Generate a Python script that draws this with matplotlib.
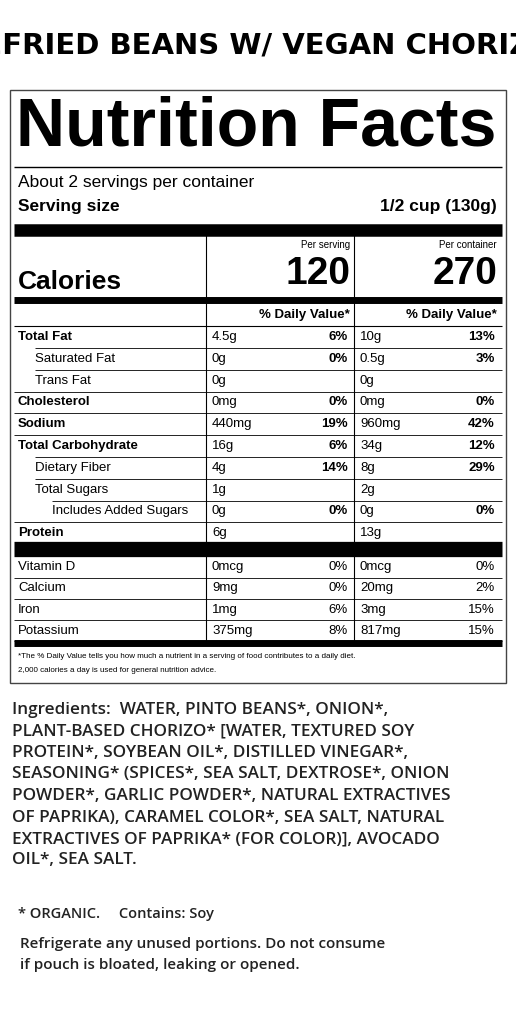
import matplotlib.pyplot as plt

title = "REFRIED BEANS W/ VEGAN CHORIZO"
servings = "About 2 servings per container"
serving_size = "1/2 cup (130g)"
cal_serving = "120"
cal_container = "270"

nutrients = ["Total Fat", "Saturated Fat", "Trans Fat", "Cholesterol", "Sodium",
             "Total Carbohydrate", "Dietary Fiber", "Total Sugars",
             "Includes Added Sugars", "Protein"]
indent = [0, 1, 1, 0, 0, 0, 1, 1, 2, 0]
bold = [True, False, False, True, True, True, False, False, False, True]
amt_serv = ["4.5g", "0g", "0g", "0mg", "440mg", "16g", "4g", "1g", "0g", "6g"]
dv_serv = ["6%", "0%", "", "0%", "19%", "6%", "14%", "", "0%", ""]
amt_cont = ["10g", "0.5g", "0g", "0mg", "960mg", "34g", "8g", "2g", "0g", "13g"]
dv_cont = ["13%", "3%", "", "0%", "42%", "12%", "29%", "", "0%", ""]

vitamins = ["Vitamin D", "Calcium", "Iron", "Potassium"]
vit_serv = ["0mcg", "9mg", "1mg", "375mg"]
vit_dv_serv = ["0%", "0%", "6%", "8%"]
vit_cont = ["0mcg", "20mg", "3mg", "817mg"]
vit_dv_cont = ["0%", "2%", "15%", "15%"]

footnote = ["*The % Daily Value tells you how much a nutrient in a serving of food contributes to a daily diet.",
            "2,000 calories a day is used for general nutrition advice."]
ingredients = ["Ingredients:  WATER, PINTO BEANS*, ONION*,",
               "PLANT-BASED CHORIZO* [WATER, TEXTURED SOY",
               "PROTEIN*, SOYBEAN OIL*, DISTILLED VINEGAR*,",
               "SEASONING* (SPICES*, SEA SALT, DEXTROSE*, ONION",
               "POWDER*, GARLIC POWDER*, NATURAL EXTRACTIVES",
               "OF PAPRIKA), CARAMEL COLOR*, SEA SALT, NATURAL",
               "EXTRACTIVES OF PAPRIKA* (FOR COLOR)], AVOCADO",
               "OIL*, SEA SALT."]
notes = ["Refrigerate any unused portions. Do not consume",
         "if pouch is bloated, leaking or opened."]

fig = plt.figure(figsize=(5.16, 10.24), dpi=100)
ax = fig.add_axes([0, 0, 1, 1])
ax.set_xlim(0, 516)
ax.set_ylim(1024, 0)
ax.axis("off")

A = "Liberation Sans"
L, R1, R2 = 18, 350, 497


def t(x, y, s, size=10, w="normal", ha="left", fam=A, **kw):
    ax.text(x, y, s, fontsize=size, fontweight=w, ha=ha, va="center", family=fam, **kw)


def hline(y, lw=0.8, x0=14, x1=502):
    ax.plot([x0, x1], [y, y], color="black", lw=lw, solid_capstyle="butt")


t(258, 45, title, size=21, w="bold", ha="center", fam="DejaVu Sans")

ax.add_patch(plt.Rectangle((10, 90), 496, 593, fill=False, lw=1, ec="#444444"))
t(L - 2, 128, "Nutrition Facts", size=49, w="bold")
hline(167, 1)
t(L, 183, servings, size=12.5)
t(L, 207, "Serving size", size=12.5, w="bold")
t(R2, 207, serving_size, size=12.5, w="bold", ha="right")
hline(229.5, 9)

for x in (206, 354):
    ax.plot([x, x], [234, 641], color="black", lw=0.8)

t(R1, 245, "Per serving", size=7, ha="right")
t(R2, 245, "Per container", size=7, ha="right")
t(R1, 274, cal_serving, size=28, w="bold", ha="right")
t(R2, 274, cal_container, size=28, w="bold", ha="right")
t(L, 282, "Calories", size=19, w="bold")
hline(300, 5)
t(R1, 315, "% Daily Value*", size=9.5, w="bold", ha="right")
t(R2, 315, "% Daily Value*", size=9.5, w="bold", ha="right")
hline(326, 0.8)

y = 337
for i, n in enumerate(nutrients):
    wt = "bold" if bold[i] else "normal"
    t(L + 17 * indent[i], y, n, size=9.5, w=wt)
    t(212, y, amt_serv[i], size=9.5)
    t(R1 - 2, y, dv_serv[i], size=9.5, w="bold", ha="right")
    t(360, y, amt_cont[i], size=9.5)
    t(R2 - 2, y, dv_cont[i], size=9.5, w="bold", ha="right")
    if i < len(nutrients) - 1:
        hline(y + 11, 0.6, x0=L + 17 * indent[i + 1] if indent[i + 1] else 14)
    y += 21.8
hline(549, 11)

y = 567
for i, n in enumerate(vitamins):
    t(L, y, n, size=9.5)
    t(212, y, vit_serv[i], size=9.5)
    t(R1 - 2, y, vit_dv_serv[i], size=9.5, ha="right")
    t(360, y, vit_cont[i], size=9.5)
    t(R2 - 2, y, vit_dv_cont[i], size=9.5, ha="right")
    hline(y + 10.5, 0.6)
    y += 21.3
hline(643, 5)
t(L, 657, footnote[0], size=5.8)
t(L, 670, footnote[1], size=5.8)

O = "Open Sans"
for i, line in enumerate(ingredients):
    t(12, 710 + i * 21.5, line, size=12.3, w="semibold", fam=O, color="#222222")
t(18, 914, "* ORGANIC.     Contains: Soy", size=10.5, w="semibold", fam=O, color="#222222")
t(20, 944, notes[0], size=11, w="semibold", fam=O, color="#222222")
t(20, 965, notes[1], size=11, w="semibold", fam=O, color="#222222")

fig.savefig("out.png", dpi=100)
